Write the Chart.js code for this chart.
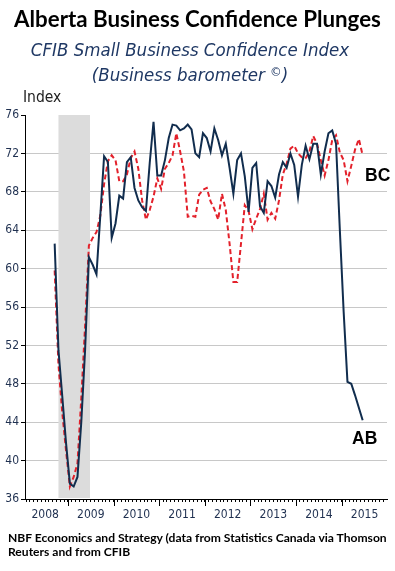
<!DOCTYPE html>
<html>
<head>
<meta charset="utf-8">
<script src="https://cdn.jsdelivr.net/npm/chart.js@4.4.1/dist/chart.umd.min.js"></script>
<style>
    html, body { margin: 0; padding: 0; background: #fff; }
    #wrap { position: relative; width: 395px; height: 571px; overflow: hidden; }
    #chart { position: absolute; left: 0; top: 0; }
    .txt { position: absolute; white-space: nowrap; line-height: 1; }
    #title { left: 0; width: 395px; text-align: center; top: 5px; font: bold 22.3px Lato, sans-serif; color: #000; }
    .sub { left: 0; width: 380px; text-align: center; font: italic 18.5px 'Liberation Sans Narrow', 'DejaVu Sans Condensed', sans-serif; color: #1f3864; }
    #sub1 { top: 39px; }
    #sub2 { top: 64px; }
    #sub2 span { font-size: 70%; vertical-align: 0.4em; }
    #index { left: 23px; top: 88px; font: 15.5px 'Liberation Sans Narrow', 'DejaVu Sans Condensed', sans-serif; color: #222; }
    .serie { font: bold 17.5px 'Liberation Sans', Arial, sans-serif; color: #000; }
    #lblBC { left: 365px; top: 165px; }
    #lblAB { left: 352px; top: 428px; }
    #footer { left: 8px; top: 531px; font: bold 12.1px Lato, sans-serif; line-height: 14.3px; color: #000; white-space: normal; width: 387px; }
</style>
</head>
<body>
<div id="wrap">
    <canvas id="chart" width="395" height="571"></canvas>
    <div class="txt" id="title">Alberta Business Confidence Plunges</div>
    <div class="txt sub" id="sub1">CFIB Small Business Confidence Index</div>
    <div class="txt sub" id="sub2">(Business barometer <span>©</span>)</div>
    <div class="txt" id="index">Index</div>
    <div class="txt serie" id="lblBC">BC</div>
    <div class="txt serie" id="lblAB">AB</div>
    <div class="txt" id="footer">NBF Economics and Strategy (data from Statistics Canada via Thomson<br>Reuters and from CFIB</div>
</div>
<script>
// Monthly index values, Sep 2008 -> Jun 2015
const abIndex = [
    62.6, 51.5, 46.7, 41.8, 37.6, 37.3, 38.3, 44.0, 51.5, 61.2, 60.4, 59.4,
    65.5, 71.7, 71.1, 63.2, 64.7, 67.6, 67.3, 71.1, 71.6, 68.4, 67.1, 66.4,
    66.0, 71.0, 75.3, 69.7, 69.7, 71.3, 73.6, 75.0, 74.9, 74.4, 74.6, 75.0,
    74.5, 72.0, 71.6, 74.1, 73.6, 72.2, 74.6, 73.4, 71.8, 73.0, 70.5, 67.8,
    71.3, 72.0, 69.6, 65.9, 70.5, 71.0, 66.5, 65.8, 69.1, 68.6, 67.4, 69.8,
    71.1, 70.5, 72.0, 70.8, 67.5, 70.8, 72.8, 71.4, 73.0, 73.0, 69.8, 72.2,
    74.1, 74.4, 73.0, 64.0, 55.5, 48.2, 48.0, 46.8, 45.5, 44.2
];
const bcIndex = [
    59.8, 50.0, 45.0, 41.0, 37.3, 38.3, 39.7, 46.5, 54.0, 62.4, 63.2, 63.8,
    65.5, 68.8, 71.2, 71.8, 71.3, 69.1, 69.1, 69.8, 71.5, 72.2, 70.4, 67.1,
    65.1, 66.1, 67.5, 69.4, 68.3, 70.4, 71.0, 71.8, 74.1, 72.2, 70.1, 65.4,
    65.5, 65.4, 67.7, 68.2, 68.4, 67.0, 66.2, 65.1, 67.8, 66.1, 62.6, 58.6,
    58.6, 62.6, 66.6, 66.0, 64.1, 65.2, 66.2, 67.8, 65.1, 65.8, 65.2, 67.1,
    69.8, 70.9, 72.5, 72.8, 72.0, 71.6, 71.5, 72.2, 73.8, 73.0, 71.3, 69.7,
    71.3, 73.4, 73.9, 72.1, 71.3, 69.1, 70.7, 72.4, 73.5, 71.8
];
const yearLabels = ['2008', '2009', '2010', '2011', '2012', '2013', '2014', '2015'];
const yTicks = [36, 40, 44, 48, 52, 56, 60, 64, 68, 72, 76];
// x unit = months since Jan 2008; points sit mid-month
const firstMonth = 8.5;
const recession = [9.5, 17.8];

const monthTicks = Array.from({ length: 95 }, (_, i) => i + 1);
const yearStarts = yearLabels.slice(1).map((_, i) => (i + 1) * 12);

const toPoints = vals => vals.map((v, i) => ({ x: firstMonth + i, y: v }));

const tickFont = { family: "'Liberation Sans Narrow', 'DejaVu Sans Condensed', sans-serif", size: 12 };

// grey band for the recession, under the lines but over the grid
const recessionShade = {
    id: 'recessionShade',
    beforeDatasetsDraw(chart) {
        const { ctx, chartArea, scales: { x } } = chart;
        const x0 = x.getPixelForValue(recession[0]);
        const x1 = x.getPixelForValue(recession[1]);
        ctx.save();
        ctx.fillStyle = '#dcdcdc';
        ctx.fillRect(x0, chartArea.top, x1 - x0, chartArea.bottom - chartArea.top - 1);
        ctx.restore();
    }
};

// longer tick marks at each new year
const yearTicks = {
    id: 'yearTicks',
    afterDraw(chart) {
        const { ctx, chartArea, scales: { x } } = chart;
        ctx.save();
        ctx.strokeStyle = '#000';
        ctx.lineWidth = 1;
        yearStarts.forEach(m => {
            const px = Math.round(x.getPixelForValue(m)) + 0.5;
            ctx.beginPath();
            ctx.moveTo(px, chartArea.bottom);
            ctx.lineTo(px, chartArea.bottom + 7);
            ctx.stroke();
        });
        ctx.restore();
    }
};

new Chart(document.getElementById('chart'), {
    type: 'line',
    data: {
        datasets: [{
            label: 'AB',
            data: toPoints(abIndex),
            borderColor: '#112d4e',
            borderWidth: 2,
            pointRadius: 0,
            tension: 0
        }, {
            label: 'BC',
            data: toPoints(bcIndex),
            borderColor: '#e3212b',
            borderWidth: 2,
            borderDash: [5, 3],
            pointRadius: 0,
            tension: 0
        }]
    },
    options: {
        responsive: false,
        animation: false,
        layout: { padding: { top: 115, right: 8, bottom: 42, left: 0 } },
        plugins: {
            legend: { display: false },
            tooltip: { enabled: false }
        },
        scales: {
            x: {
                type: 'linear',
                min: 0.7,
                max: 95.9,
                afterBuildTicks: s => { s.ticks = monthTicks.map(v => ({ value: v })); },
                afterFit: s => { s.height = 30; },
                grid: { drawOnChartArea: false, drawTicks: true, tickLength: 3, color: '#000', tickColor: '#000' },
                border: { display: true, color: '#000', width: 1 },
                ticks: {
                    autoSkip: false,
                    maxRotation: 0,
                    padding: 6,
                    color: '#1f3050',
                    font: tickFont,
                    callback: v => (v % 12 === 6 ? yearLabels[(v - 6) / 12] : '')
                }
            },
            y: {
                min: 36,
                max: 76,
                afterBuildTicks: s => { s.ticks = yTicks.map(v => ({ value: v })); },
                afterFit: s => { s.width = 25; },
                grid: {
                    color: c => (c.tick && c.tick.value === 76 ? 'rgba(0,0,0,0)' : '#c8c8c8'),
                    tickColor: '#000',
                    tickLength: 4,
                    drawTicks: true
                },
                border: { display: true, color: '#000', width: 1 },
                ticks: { padding: 2, color: '#1f3050', font: tickFont }
            }
        }
    },
    plugins: [recessionShade, yearTicks]
});
</script>
</body>
</html>
